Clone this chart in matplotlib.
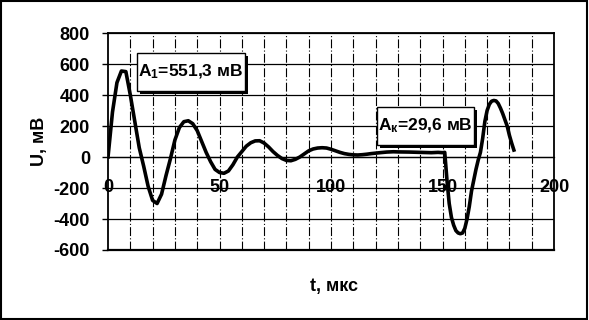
import matplotlib.pyplot as plt
import matplotlib.patheffects as pe
from matplotlib.patches import Rectangle

plt.rcParams['font.family'] = ['Liberation Sans', 'DejaVu Sans']
plt.rcParams['font.weight'] = 'bold'
plt.rcParams['axes.unicode_minus'] = False
plt.rcParams['mathtext.fontset'] = 'custom'
plt.rcParams['mathtext.rm'] = 'Liberation Sans:bold'
plt.rcParams['mathtext.it'] = 'Liberation Sans:bold'

# signal: time (us) and voltage (mV)
t = [0, 2, 4, 6, 8, 10, 12, 14, 16, 18, 20, 22, 24, 26, 28, 30, 32, 34, 36, 38,
     40, 42, 44, 46, 48, 50, 52, 54, 56, 58, 60, 62, 64, 66, 68, 70, 72, 74, 76, 78,
     80, 82, 84, 86, 88, 90, 92, 94, 96, 98, 100, 102, 104, 106, 108, 110, 112, 114,
     116, 118, 120, 122, 125, 128, 130, 135, 140, 145, 148, 150, 151, 152, 153, 154,
     155, 156, 157, 158, 159, 160, 161, 162, 163, 164, 165, 166, 167, 168, 169, 170,
     171, 172, 173, 174, 175, 176, 177, 178, 179, 180, 181, 182]
u = [0, 290, 480, 555, 551, 400, 230, 60, -60, -190, -280, -300, -240, -120, -10,
     110, 190, 228, 234, 215, 170, 100, 30, -30, -80, -100, -105, -90, -50, 0, 35,
     70, 92, 104, 105, 90, 65, 35, 10, -10, -22, -24, -15, 0, 20, 40, 52, 58, 60, 58,
     50, 40, 30, 22, 17, 14, 13, 15, 18, 22, 25, 28, 32, 34, 33, 32, 30, 28, 30, 28,
     30, -150, -300, -390, -440, -475, -490, -495, -490, -460, -400, -320, -220, -150,
     -80, -20, 30, 120, 230, 300, 340, 360, 365, 362, 345, 315, 280, 240, 200, 140, 90, 45]

x_ticks = [0, 50, 100, 150, 200]
y_ticks = [-600, -400, -200, 0, 200, 400, 600, 800]
label_first = r'$\mathrm{A_1}$=551,3 мВ'
label_last = r'$\mathrm{A_к}$=29,6 мВ'

fig = plt.figure(figsize=(5.89, 3.2), dpi=100)
ax = fig.add_axes([0.1834, 0.21875, 0.7572, 0.678])

# grid
for gx in range(10, 200, 10):
    ax.axvline(gx, color='black', lw=0.8, ls=(0, (8, 2, 1, 2)), zorder=1)
for gy in y_ticks:
    ax.axhline(gy, color='black', lw=0.9, zorder=1)

ax.plot(t, u, color='black', lw=2.6, zorder=3)

ax.set_xlim(0, 200)
ax.set_ylim(-600, 800)
ax.set_xticks(x_ticks)
ax.set_yticks(y_ticks)

ax.spines['bottom'].set_position(('data', 0))
ax.spines['bottom'].set_linewidth(0.9)
for s in ['left', 'right', 'top']:
    ax.spines[s].set_linewidth(1.3)
ax.axhline(-600, color='black', lw=1.6, clip_on=False, zorder=4)

ax.tick_params(axis='x', length=0, pad=16, labelsize=13)
ax.tick_params(axis='y', length=4, width=1, pad=9, labelsize=13)

ax.set_ylabel('U, мВ', fontsize=13, fontweight='bold', labelpad=4)
fig.text(0.567, 0.105, 't, мкс', fontsize=13, fontweight='bold', ha='center', va='center')

# callout boxes with hard shadow
shadow = [pe.withSimplePatchShadow(offset=(2.3, -2.3), shadow_rgbFace='black', alpha=1)]
for (x0, x1, y0, y1), label in [((13.0, 61.4, 426, 671), label_first),
                                ((120.6, 164.1, 77, 323), label_last)]:
    r = Rectangle((x0, y0), x1 - x0, y1 - y0, fc='white', ec='black', lw=1, zorder=5)
    r.set_path_effects(shadow)
    ax.add_patch(r)
    ax.text((x0 + x1) / 2, (y0 + y1) / 2, label, fontsize=12.5, ha='center', va='center', zorder=6)

fig.patches.append(Rectangle((0.002, 0.003), 0.995, 0.994, transform=fig.transFigure,
                             fill=False, ec='black', lw=1.5))

fig.savefig('out.png', dpi=100)
